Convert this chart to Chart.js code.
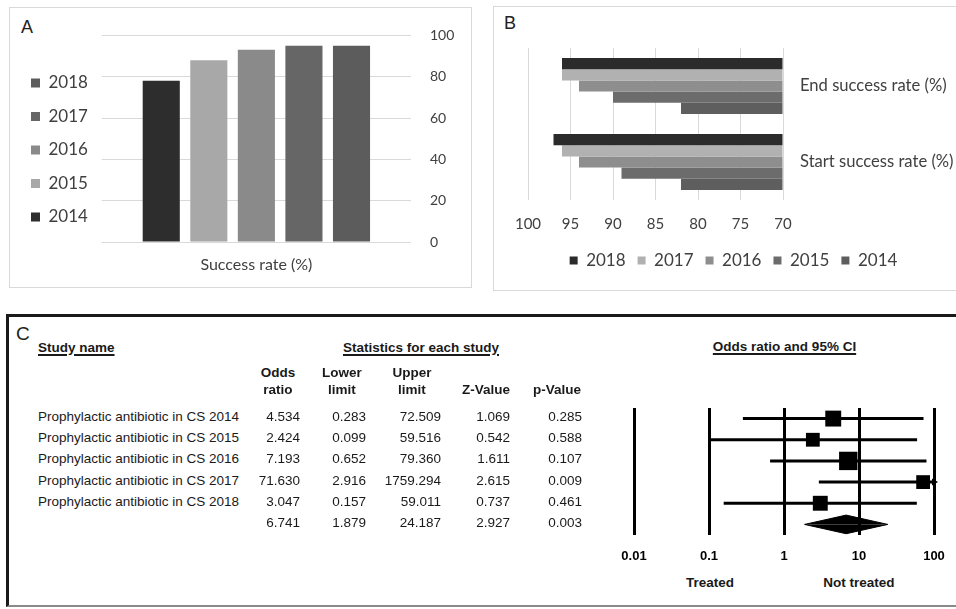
<!DOCTYPE html>
<html>
<head>
<meta charset="utf-8">
<script src="https://cdn.jsdelivr.net/npm/chart.js@4.4.1/dist/chart.umd.min.js"></script>
<style>
    body { margin: 0; width: 956px; height: 609px; position: relative; overflow: hidden; background: #fff;
           font-family: "Liberation Sans", Arial, sans-serif; }
    .box { position: absolute; box-sizing: border-box; }
    #boxA { left: 9px; top: 7px; width: 463px; height: 281px; border: 1px solid #d9d9d9; }
    #boxB { left: 493px; top: 6px; width: 480px; height: 285px; border: 1px solid #d9d9d9; }
    #boxC { left: 6px; top: 314px; width: 980px; height: 293px; border-top: 3px solid #1a1a1a;
            border-left: 3px solid #1a1a1a; border-bottom: 2px solid #8a8a8a; }
    .wrap { position: absolute; }
    .t { position: absolute; white-space: nowrap; font-size: 13.5px; line-height: 16px; color: #1a1a1a; }
    .b { font-weight: bold; }
    .u { text-decoration: underline; text-underline-offset: 2px; text-decoration-thickness: 1.5px; }
    .letter { position: absolute; font-size: 18px; line-height: 20px; color: #222; }
</style>
</head>
<body>
<div class="box" id="boxA"></div>
<div class="box" id="boxB"></div>
<div class="box" id="boxC"></div>

<div class="letter" style="left:21px; top:17px;">A</div>
<div class="letter" style="left:504px; top:13px;">B</div>
<div class="letter" style="left:16px; top:324px; font-size:19px;">C</div>

<div class="wrap" style="left:10px; top:8px; width:461px; height:279px;"><canvas id="chartA"></canvas></div>
<div class="wrap" style="left:494px; top:7px; width:462px; height:280px;"><canvas id="chartB"></canvas></div>
<div class="wrap" style="left:600px; top:395px; width:356px; height:175px;"><canvas id="forest"></canvas></div>

<div id="table"></div>

<script>
// Panel A: overall success rate per year
const years = ['2014', '2015', '2016', '2017', '2018'];
const successRate = [78, 88, 93, 95, 95];

// Panel B: start / end success rate per year
const rateCategories = ['End success rate (%)', 'Start success rate (%)'];
const endRate = [82, 90, 94, 96, 96];
const startRate = [82, 89, 94, 96, 97];
const rateTicks = [70, 75, 80, 85, 90, 95, 100];

// Panel C: meta-analysis
const studyNames = [
    'Prophylactic antibiotic in CS 2014',
    'Prophylactic antibiotic in CS 2015',
    'Prophylactic antibiotic in CS 2016',
    'Prophylactic antibiotic in CS 2017',
    'Prophylactic antibiotic in CS 2018'
];
const oddsRatio = [4.534, 2.424, 7.193, 71.630, 3.047];
const lowerLimit = [0.283, 0.099, 0.652, 2.916, 0.157];
const upperLimit = [72.509, 59.516, 79.360, 1759.294, 59.011];
const zValue = [1.069, 0.542, 1.611, 2.615, 0.737];
const pValue = [0.285, 0.588, 0.107, 0.009, 0.461];
const pooledStats = [6.741, 1.879, 24.187, 2.927, 0.003]; // OR, lower, upper, Z, p
const forestTicks = [0.01, 0.1, 1, 10, 100];

const colorsA = ['#2d2d2d', '#a8a8a8', '#8a8a8a', '#666666', '#5c5c5c'];
const colorsB = ['#5e5e5e', '#6c6c6c', '#8e8e8e', '#b1b1b1', '#2b2b2b'];
const txt = '#404040';
const office = 'Lato, "Open Sans", sans-serif';

Chart.defaults.animation = false;
Chart.defaults.plugins.tooltip.enabled = false;

// empty axis used only to reserve a few pixels on the left
const spacer = w => ({
    position: 'left',
    display: true,
    grid: { display: false },
    border: { display: false },
    ticks: { display: false },
    afterFit: s => { s.width = w; }
});

// ---- A ----
new Chart(document.getElementById('chartA'), {
    type: 'bar',
    data: {
        labels: ['Success rate (%)'],
        datasets: years.map((y, i) => ({
            label: y,
            data: [successRate[i]],
            backgroundColor: colorsA[i]
        }))
    },
    options: {
        responsive: true,
        maintainAspectRatio: false,
        layout: { padding: { left: 4.5, right: 17, top: 26, bottom: 13 } },
        datasets: { bar: { categoryPercentage: 0.769, barPercentage: 0.78 } },
        scales: {
            x: {
                grid: { display: false },
                border: { display: false },
                ticks: { color: txt, font: { family: office, size: 16 }, padding: 5 },
                afterFit: s => { s.height = 32; }
            },
            y: {
                position: 'right',
                min: 0,
                max: 100,
                ticks: { stepSize: 20, color: txt, font: { family: office, size: 14 }, padding: 19 },
                grid: { color: '#d9d9d9', drawTicks: false },
                border: { display: false },
                afterFit: s => { s.width = 43; }
            },
            gap: spacer(14)
        },
        plugins: {
            legend: {
                position: 'left',
                align: 'start',
                reverse: true,
                title: { display: true, text: '', font: { size: 10 }, padding: { top: 12, bottom: 0 } },
                labels: { boxWidth: 9, boxHeight: 9, padding: 16.5, color: txt, font: { family: office, size: 17 } }
            }
        }
    }
});

// ---- B ----
const orderB = [4, 3, 2, 1, 0]; // 2018 first
new Chart(document.getElementById('chartB'), {
    type: 'bar',
    data: {
        labels: rateCategories,
        datasets: orderB.map(i => ({
            label: years[i],
            data: [endRate[i], startRate[i]],
            backgroundColor: colorsB[i],
            base: rateTicks[0]
        }))
    },
    options: {
        indexAxis: 'y',
        responsive: true,
        maintainAspectRatio: false,
        layout: { padding: { left: 20, right: 3, top: 41, bottom: 8 } },
        datasets: { bar: { categoryPercentage: 0.737, barPercentage: 1 } },
        scales: {
            x: {
                reverse: true,
                min: rateTicks[0],
                max: rateTicks[rateTicks.length - 1],
                ticks: { stepSize: 5, color: txt, font: { family: office, size: 15 }, padding: 15 },
                grid: { color: '#d9d9d9', drawTicks: false },
                border: { display: false },
                afterFit: s => { s.height = 32; }
            },
            y: {
                position: 'right',
                grid: { display: false, drawTicks: false },
                border: { display: false },
                ticks: { color: txt, font: { family: office, size: 16.6 }, padding: 17 },
                afterFit: s => { s.width = 170; }
            },
            gap: spacer(14)
        },
        plugins: {
            legend: {
                position: 'bottom',
                title: { display: true, text: '', font: { size: 5 }, padding: { top: 2, bottom: 0 } },
                labels: { boxWidth: 8, boxHeight: 8, padding: 12, color: txt, font: { family: office, size: 17 } }
            }
        }
    }
});

// ---- C: table ----
const table = document.getElementById('table');
function addText(str, x, cy, cls, align) {
    const d = document.createElement('div');
    d.className = 't ' + (cls || '');
    d.textContent = str;
    d.style.top = (cy - 8) + 'px';
    if (align === 'right') {
        d.style.left = (x - 150) + 'px';
        d.style.width = '150px';
        d.style.textAlign = 'right';
    } else if (align === 'center') {
        d.style.left = (x - 150) + 'px';
        d.style.width = '300px';
        d.style.textAlign = 'center';
    } else {
        d.style.left = x + 'px';
    }
    table.appendChild(d);
}

addText('Study name', 38, 347.5, 'b u');
addText('Statistics for each study', 421, 348, 'b u', 'center');
addText('Odds ratio and 95% CI', 784.5, 347, 'b u', 'center');

const headCenters = [278, 342, 412, 486, 557];
const headLines = [['Odds', 'ratio'], ['Lower', 'limit'], ['Upper', 'limit'], ['', 'Z-Value'], ['', 'p-Value']];
headLines.forEach((lines, c) => {
    addText(lines[0], headCenters[c], 373, 'b', 'center');
    addText(lines[1], headCenters[c], 390, 'b', 'center');
});

const colRight = [300, 366, 441, 510, 582];
const rowY = i => 416.7 + i * 21.35;
studyNames.forEach((name, i) => {
    addText(name, 38, rowY(i));
    [oddsRatio[i], lowerLimit[i], upperLimit[i], zValue[i], pValue[i]].forEach((v, c) => {
        addText(v.toFixed(3), colRight[c], rowY(i), '', 'right');
    });
});
pooledStats.forEach((v, c) => addText(v.toFixed(3), colRight[c], rowY(studyNames.length), '', 'right'));

addText('Treated', 710, 583, 'b', 'center');
addText('Not treated', 859, 583, 'b', 'center');

// ---- C: forest plot ----
const xMin = forestTicks[0];
const xMax = forestTicks[forestTicks.length - 1];
const weights = lowerLimit.map((lo, i) => {
    const se = (Math.log(upperLimit[i]) - Math.log(lo)) / (2 * 1.96);
    return 1 / (se * se);
});
const maxW = Math.max(...weights);
const sumRow = studyNames.length;
const halfH = 0.44;

const ciSets = studyNames.map((n, i) => ({
    type: 'line',
    data: [{ x: Math.max(lowerLimit[i], xMin), y: i }, { x: Math.min(upperLimit[i], xMax), y: i }],
    borderColor: '#000',
    borderWidth: 3,
    pointRadius: 0,
    fill: false
}));

const arrowPts = upperLimit.map((u, i) => u > xMax ? { x: xMax, y: i } : null).filter(p => p);

new Chart(document.getElementById('forest'), {
    type: 'scatter',
    data: {
        datasets: [
            ...ciSets,
            {
                data: oddsRatio.map((v, i) => ({ x: v, y: i })),
                pointStyle: 'rect',
                pointRadius: weights.map(w => 13 * Math.sqrt(w / maxW)),
                backgroundColor: '#000',
                borderWidth: 0
            },
            {
                data: arrowPts,
                pointStyle: 'triangle',
                rotation: 90,
                pointRadius: 4,
                backgroundColor: '#000',
                borderWidth: 0,
                clip: false
            },
            {
                type: 'line',
                data: [{ x: pooledStats[1], y: sumRow }, { x: pooledStats[0], y: sumRow - halfH }, { x: pooledStats[2], y: sumRow }],
                borderColor: '#000', borderWidth: 1, pointRadius: 0, tension: 0,
                backgroundColor: '#000', fill: { value: sumRow }
            },
            {
                type: 'line',
                data: [{ x: pooledStats[1], y: sumRow }, { x: pooledStats[0], y: sumRow + halfH }, { x: pooledStats[2], y: sumRow }],
                borderColor: '#000', borderWidth: 1, pointRadius: 0, tension: 0,
                backgroundColor: '#000', fill: { value: sumRow }
            }
        ]
    },
    options: {
        responsive: true,
        maintainAspectRatio: false,
        layout: { padding: { left: 34, right: 22, top: 10, bottom: 7 } },
        scales: {
            x: {
                type: 'logarithmic',
                min: xMin,
                max: xMax,
                afterBuildTicks: scale => { scale.ticks = forestTicks.map(v => ({ value: v })); },
                ticks: {
                    autoSkip: false,
                    maxRotation: 0,
                    padding: 14,
                    color: '#000',
                    font: { family: '"Liberation Sans", Arial, sans-serif', size: 13, weight: 'bold' },
                    callback: v => String(v)
                },
                grid: { color: '#000', lineWidth: 3, drawTicks: false },
                border: { display: false },
                afterFit: s => { s.height = 28; s.paddingLeft = 0; s.paddingRight = 0; }
            },
            y: { type: 'linear', min: -0.5, max: 5.5, reverse: true, display: false }
        },
        plugins: { legend: { display: false } }
    }
});
</script>
</body>
</html>
